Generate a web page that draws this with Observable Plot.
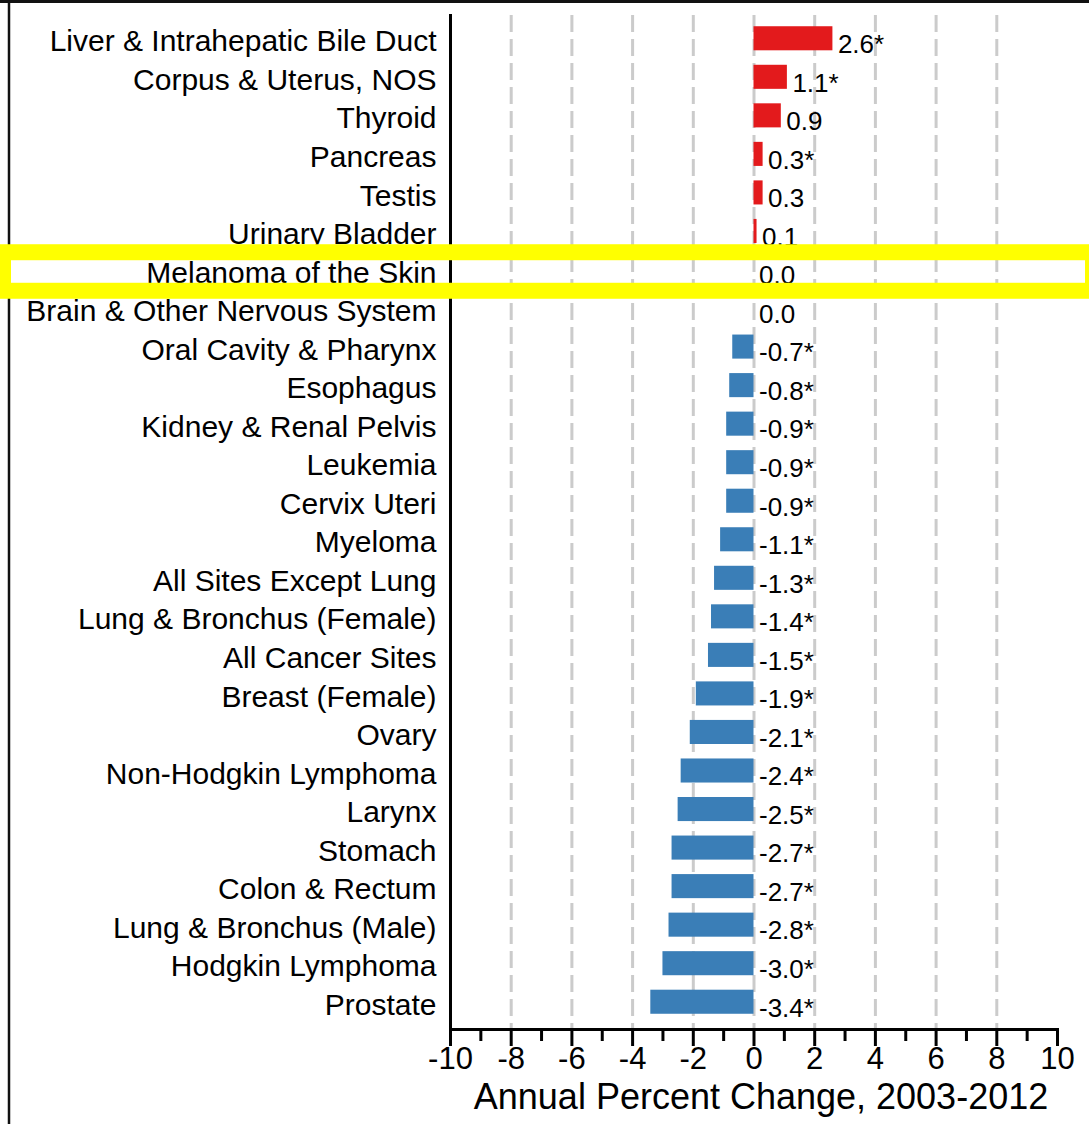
<!DOCTYPE html>
<html>
<head>
<meta charset="utf-8">
<script src="https://cdn.jsdelivr.net/npm/d3@7"></script>
<script src="https://cdn.jsdelivr.net/npm/@observablehq/plot@0.6"></script>
<style>
  html, body { margin: 0; padding: 0; background: #fff; }
  #chart { position: relative; width: 1089px; height: 1124px; border-top: 3px solid #111; box-sizing: border-box; }
  #chart svg { position: absolute; left: 0; top: -3px; }
</style>
</head>
<body>
<div id="chart"></div>
<script>
const sites = [
  "Liver & Intrahepatic Bile Duct",
  "Corpus & Uterus, NOS",
  "Thyroid",
  "Pancreas",
  "Testis",
  "Urinary Bladder",
  "Melanoma of the Skin",
  "Brain & Other Nervous System",
  "Oral Cavity & Pharynx",
  "Esophagus",
  "Kidney & Renal Pelvis",
  "Leukemia",
  "Cervix Uteri",
  "Myeloma",
  "All Sites Except Lung",
  "Lung & Bronchus (Female)",
  "All Cancer Sites",
  "Breast (Female)",
  "Ovary",
  "Non-Hodgkin Lymphoma",
  "Larynx",
  "Stomach",
  "Colon & Rectum",
  "Lung & Bronchus (Male)",
  "Hodgkin Lymphoma",
  "Prostate"
];
const apc = [2.6, 1.1, 0.9, 0.3, 0.3, 0.1, 0.0, 0.0, -0.7, -0.8, -0.9, -0.9, -0.9, -1.1, -1.3, -1.4, -1.5, -1.9, -2.1, -2.4, -2.5, -2.7, -2.7, -2.8, -3.0, -3.4];
const significant = [true, true, false, true, false, false, false, false, true, true, true, true, true, true, true, true, true, true, true, true, true, true, true, true, true, true];
const majorTicks = [-10, -8, -6, -4, -2, 0, 2, 4, 6, 8, 10];
const minorTicks = [-9, -7, -5, -3, -1, 1, 3, 5, 7, 9];
const gridLines = [-8, -6, -4, -2, 0, 2, 4, 6, 8];
const highlighted = "Melanoma of the Skin";
const xTitle = "Annual Percent Change, 2003-2012";

const RED = "#e31a1c", BLUE = "#3a7eb7";
const data = sites.map((name, i) => ({
  name,
  value: apc[i],
  label: apc[i].toFixed(1) + (significant[i] ? "*" : ""),
  color: apc[i] > 0 ? RED : BLUE
}));

const W = 1089, H = 1124;

function decorations(index, scales, values, dimensions) {
  const g = d3.create("svg:g");
  // outer frame line (left)
  g.append("path").attr("d", `M9,${dimensions.height}V3`)
    .attr("fill", "none").attr("stroke", "#111").attr("stroke-width", 2.5);
  // highlight box around the selected row
  const y = scales.y;
  const bw = y.bandwidth ? y.bandwidth() : 0;
  const step = y.step ? y.step() : bw;
  const c = y(highlighted) + bw / 2;
  g.append("rect")
    .attr("x", 3).attr("width", 1090)
    .attr("y", c - step / 2 - 1).attr("height", step)
    .attr("fill", "none").attr("stroke", "#ffff00").attr("stroke-width", 16);
  return g.node();
}

const chart = Plot.plot({
  width: W,
  height: H,
  marginLeft: 450,
  marginRight: 32,
  marginTop: 15,
  marginBottom: 95,
  style: { fontFamily: "'Liberation Sans', Arial, Helvetica, sans-serif", color: "#000", background: "transparent" },
  x: { domain: [-10, 10], axis: null },
  y: { domain: sites, paddingInner: 0.22, paddingOuter: 0.11, insetTop: 7, insetBottom: 5, round: false, axis: null },
  marks: [
    Plot.ruleX(gridLines, { x: d => d, stroke: "#cbcbcb", strokeWidth: 3, strokeDasharray: "17,7" }),
    Plot.barX(data, { x: "value", y: "name", fill: "color", insetBottom: 6 }),
    Plot.text(data, {
      x: d => Math.max(0, d.value), y: "name", text: "label",
      textAnchor: "start", dx: 5, dy: 3, fontSize: 26, fill: "#000"
    }),
    Plot.axisY({ tickSize: 0, tickPadding: 14, fontSize: 30, label: null }),
    Plot.axisX({ ticks: majorTicks, tickFormat: d => String(d), tickSize: 17, tickPadding: 0, fontSize: 31, strokeWidth: 3, label: null }),
    Plot.axisX({ ticks: minorTicks, tickFormat: () => "", tickSize: 12, strokeWidth: 3, label: null }),
    Plot.frame({ anchor: "bottom", strokeWidth: 3, stroke: "#000" }),
    Plot.frame({ anchor: "left", strokeWidth: 3, stroke: "#000" }),
    Plot.text([xTitle], { frameAnchor: "bottom", text: d => d, dy: 79, dx: 7, fontSize: 36, fill: "#000" }),
    decorations
  ]
});
document.getElementById("chart").append(chart);
</script>
</body>
</html>
